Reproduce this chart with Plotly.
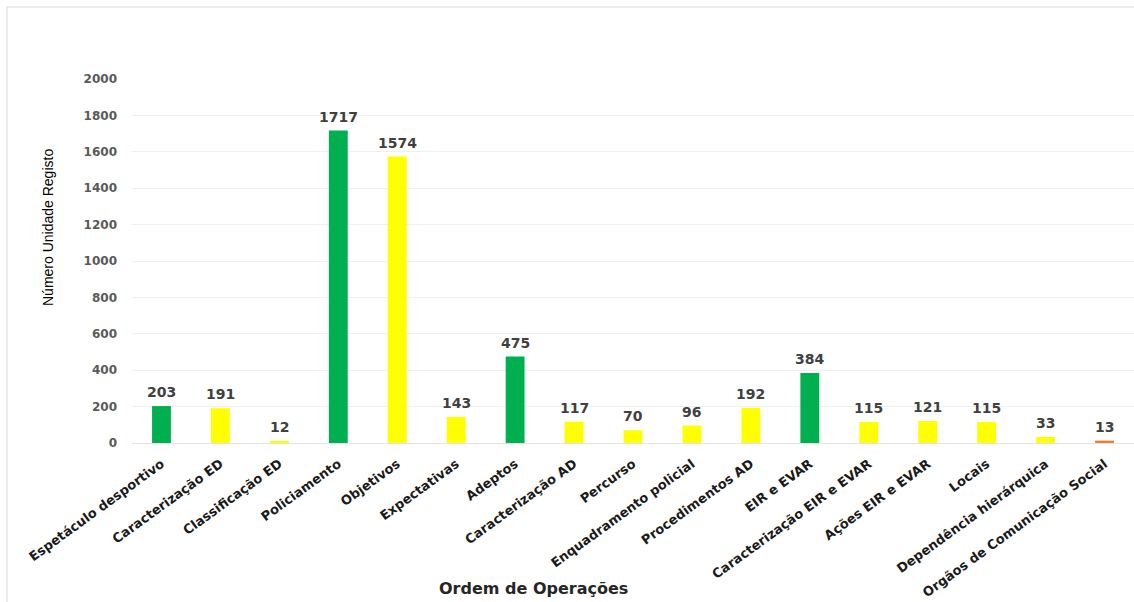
import plotly.graph_objects as go

categories = [
    "Espetáculo desportivo", "Caracterização ED", "Classificação ED", "Policiamento",
    "Objetivos", "Expectativas", "Adeptos", "Caracterização AD", "Percurso",
    "Enquadramento policial", "Procedimentos AD", "EIR e EVAR",
    "Caracterização EIR e EVAR", "Ações EIR e EVAR", "Locais",
    "Dependência hierárquica", "Orgãos de Comunicação Social",
]
values = [203, 191, 12, 1717, 1574, 143, 475, 117, 70, 96, 192, 384, 115, 121, 115, 33, 13]
groups = ["main", "sub", "sub", "main", "sub", "sub", "main", "sub", "sub", "sub",
          "sub", "main", "sub", "sub", "sub", "sub", "other"]

palette = {"main": "#00B050", "sub": "#FFFF00", "other": "#ED7D31"}
bar_colors = [palette[g] for g in groups]

W, H = 1134, 602
ML, MR, MT, MB = 132, 0, 79, 159
plot_w = W - ML - MR
plot_h = H - MT - MB


def px_x(px):
    return (px - ML) / plot_w


def px_y(py):
    return (H - MB - py) / plot_h


fig = go.Figure()
fig.add_trace(go.Bar(
    x=categories,
    y=values,
    marker=dict(color=bar_colors, line=dict(width=0)),
    hoverinfo="x+y",
))

# value labels above each bar
value_labels = [
    dict(x=c, y=v, xref="x", yref="y", text=str(v), showarrow=False,
         xanchor="center", yanchor="bottom", yshift=4,
         font=dict(family="DejaVu Sans", size=14, color="#404040", weight="bold"))
    for c, v in zip(categories, values)
]

fig.update_layout(
    width=W, height=H,
    margin=dict(l=ML, r=MR, t=MT, b=MB, autoexpand=False),
    paper_bgcolor="white", plot_bgcolor="white",
    bargap=0.68,
    showlegend=False,
    font=dict(family="DejaVu Sans"),
    xaxis=dict(
        range=[-0.5, len(categories) - 0.5],
        automargin=False,
        tickangle=-36,
        ticklabelstandoff=10,
        tickfont=dict(family="DejaVu Sans", size=13, color="#1a1a1a", weight="bold"),
        showgrid=False, showline=False, ticks="",
    ),
    yaxis=dict(
        range=[0, 2000], dtick=200,
        automargin=False,
        tickfont=dict(family="DejaVu Sans", size=12, color="#595959", weight="bold"),
        showgrid=True, gridcolor="#efefef", gridwidth=1,
        zeroline=True, zerolinecolor="#e3e3e3", zerolinewidth=1,
        ticks="", showline=False, ticklabelstandoff=14,
    ),
    annotations=value_labels + [
        dict(text="Número Unidade Registo", textangle=-90,
             xref="paper", yref="paper", x=px_x(48), y=px_y(228),
             xanchor="center", yanchor="middle", showarrow=False,
             font=dict(family="Liberation Sans Narrow, Liberation Sans", size=14, color="#000000")),
        dict(text="Ordem de Operações",
             xref="paper", yref="paper", x=px_x(533), y=px_y(588),
             xanchor="center", yanchor="middle", showarrow=False,
             font=dict(family="DejaVu Sans", size=16, color="#262626", weight="bold")),
    ],
    shapes=[dict(
        type="rect", xref="paper", yref="paper",
        x0=px_x(7), x1=px_x(1200), y0=px_y(700), y1=px_y(7),
        line=dict(color="#d9d9d9", width=1), fillcolor="rgba(0,0,0,0)", layer="below",
    )],
)

fig.write_html("out.html")
